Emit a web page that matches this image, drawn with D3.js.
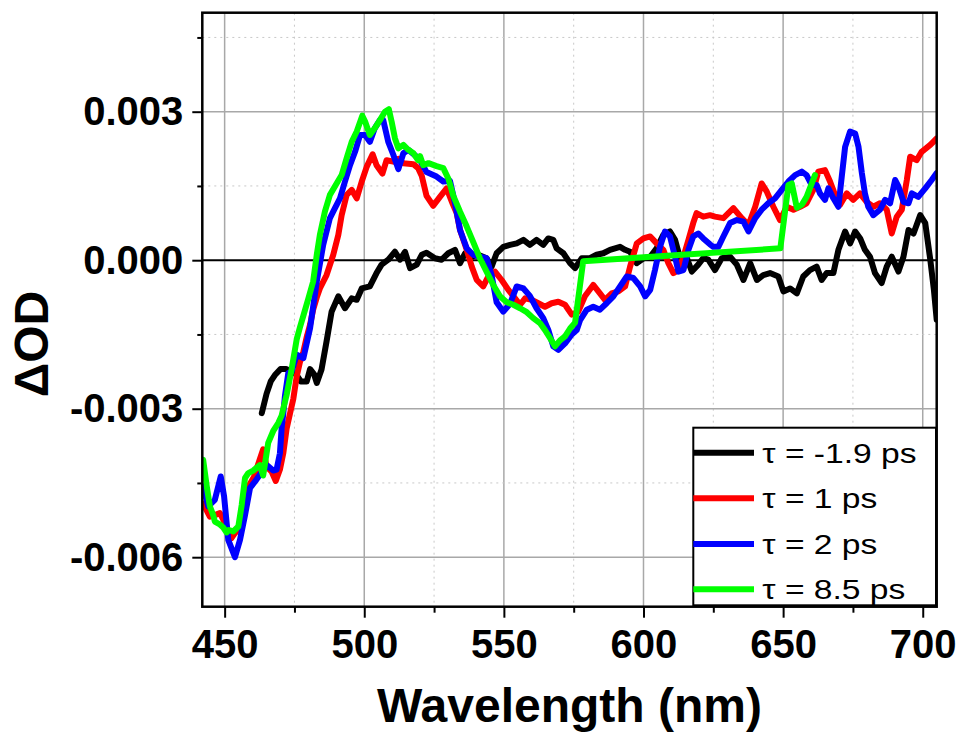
<!DOCTYPE html>
<html>
<head>
<meta charset="utf-8">
<script src="https://cdn.jsdelivr.net/npm/d3@7"></script>
<style>
  html, body { margin: 0; padding: 0; background: #fff; }
  svg { display: block; }
</style>
</head>
<body>
<svg id="chart" width="961" height="733"></svg>
<script>
// Transient absorption spectra: wavelength (nm) and ΔOD in units of 10^-3
const wlBlack = [463.3,465.0,466.5,468.0,470.0,472.0,474.0,475.5,477.3,479.4,480.6,482.0,483.0,484.7,486.5,488.3,490.7,493.1,495.5,497.3,499.1,502.0,504.4,506.2,508.6,511.0,512.8,514.6,516.4,518.8,520.6,522.3,525.3,527.7,530.1,532.5,534.3,536.1,538.5,540.8,543.8,545.6,547.4,549.8,552.2,554.6,557.0,559.3,561.7,564.1,565.9,567.7,568.9,571.3,573.7,575.5,577.9,580.8,583.2,585.6,588.0,591.6,593.4,595.2,597.6,600.0,602.4,604.7,607.1,609.5,611.3,613.1,614.9,617.3,619.6,621.4,623.2,625.6,628.0,631.0,633.4,635.8,638.2,640.6,642.9,645.3,648.3,650.1,652.5,654.9,657.2,659.6,662.0,663.8,665.6,668.0,669.8,672.2,674.0,675.8,677.6,679.3,681.1,682.9,685.3,687.1,688.9,691.3,693.1,694.9,696.7,699.1,700.9,702.7,704.0,705.0];
const odBlack = [-3.09,-2.70,-2.45,-2.32,-2.20,-2.20,-2.25,-2.30,-2.45,-2.45,-2.20,-2.30,-2.48,-2.21,-1.64,-1.04,-0.73,-0.97,-0.77,-0.80,-0.57,-0.53,-0.26,-0.09,0.01,0.17,0.01,0.17,-0.16,-0.09,0.11,0.15,0.04,0.01,0.14,0.21,-0.06,0.14,0.07,0.11,0.04,-0.13,0.14,0.27,0.31,0.34,0.41,0.31,0.41,0.31,0.44,0.41,0.24,0.14,-0.06,-0.16,0.04,0.04,0.11,0.14,0.21,0.27,0.21,0.17,-0.06,0.04,0.07,0.24,0.51,0.58,0.41,0.04,0.14,-0.23,-0.09,0.04,0.01,-0.20,0.04,0.07,-0.09,-0.40,-0.06,-0.40,-0.30,-0.26,-0.33,-0.63,-0.57,-0.67,-0.33,-0.20,-0.13,-0.40,-0.26,-0.26,0.21,0.58,0.34,0.58,0.44,0.21,0.07,-0.26,-0.46,-0.13,0.07,-0.23,0.07,0.61,0.54,0.91,0.75,0.01,-0.60,-1.20];

const wlRed = [442.3,444.7,446.5,448.3,449.5,451.3,452.5,453.7,454.9,456.7,458.5,460.5,462.6,463.8,465.0,466.8,468.3,469.8,471.0,472.2,473.4,474.6,475.8,477.0,478.2,479.4,480.6,481.7,483.0,484.1,486.5,488.9,490.7,491.9,493.7,495.5,497.3,499.1,500.9,503.0,504.4,506.5,508.0,510.4,512.2,514.0,515.8,517.6,519.3,520.6,522.3,524.7,527.1,529.5,531.6,533.1,534.3,535.5,536.7,538.5,540.3,542.6,544.4,546.8,549.2,551.6,554.0,555.8,557.6,560.0,562.3,564.7,567.1,569.5,571.9,574.3,576.6,579.0,582.0,584.4,586.2,588.6,591.0,593.4,595.2,597.6,600.0,602.4,604.7,607.1,608.9,610.7,612.5,614.3,616.1,617.8,619.0,621.4,623.8,625.6,628.6,632.2,635.2,637.6,640.0,642.3,644.1,646.5,648.9,651.3,653.7,656.1,658.4,660.8,662.6,665.0,666.8,668.6,670.4,672.8,675.1,677.5,679.9,682.3,684.7,687.1,688.9,690.7,692.5,694.3,695.5,697.8,699.6,702.7,705.0];
const odRed = [-4.92,-5.18,-5.15,-5.11,-5.24,-5.55,-5.61,-5.51,-5.45,-4.97,-4.57,-4.38,-4.02,-3.82,-4.17,-4.27,-4.46,-4.23,-3.90,-3.40,-3.10,-2.80,-2.35,-2.05,-1.85,-1.55,-1.30,-1.00,-0.75,-0.57,-0.30,0.11,0.51,0.91,1.32,1.42,1.25,1.59,1.89,2.14,1.92,1.75,2.02,1.99,2.05,1.96,1.95,1.94,1.86,1.70,1.30,1.10,1.28,1.45,1.15,0.95,0.61,0.41,0.21,-0.13,-0.40,-0.53,-0.33,-0.23,-0.40,-0.60,-0.77,-0.90,-0.77,-0.80,-0.87,-0.94,-0.87,-0.84,-0.90,-1.10,-1.04,-0.73,-0.50,-0.67,-0.80,-0.67,-0.63,-0.53,-0.13,0.34,0.44,0.48,0.34,0.21,-0.06,-0.26,-0.20,0.07,0.41,0.75,0.95,0.88,0.91,0.88,0.85,1.05,0.85,0.71,1.08,1.55,1.39,1.08,0.81,1.08,1.02,1.08,1.15,1.42,1.79,1.82,1.59,1.32,1.12,1.35,1.22,1.35,1.18,1.08,1.15,1.02,0.54,0.88,1.02,1.62,2.09,2.02,2.19,2.33,2.46];

const wlBlue = [442.3,444.1,446.5,448.6,449.8,451.3,453.7,455.5,457.3,459.1,460.9,463.3,465.3,467.4,468.6,469.8,470.4,471.0,471.6,472.8,474.0,475.8,478.2,480.6,483.0,485.3,487.7,489.5,491.3,493.1,494.9,496.7,498.5,500.3,502.0,503.8,505.6,506.8,508.6,510.4,512.2,514.0,515.8,518.8,520.0,522.3,525.9,528.3,530.7,532.5,534.3,536.7,539.0,541.4,543.8,545.6,547.4,549.8,552.2,554.6,557.0,559.3,561.7,564.1,565.9,567.7,569.5,571.9,574.3,576.1,577.3,579.7,582.0,584.4,586.8,589.2,591.6,594.0,596.4,598.8,600.6,602.4,604.1,605.9,607.7,609.5,611.3,612.5,614.3,616.1,617.8,619.6,621.4,623.8,625.0,626.8,628.6,631.0,633.4,635.8,637.6,640.0,642.3,644.7,647.1,649.5,651.9,654.3,656.7,658.4,660.2,662.0,663.2,665.0,666.2,668.0,669.8,671.0,672.2,674.0,675.8,677.0,678.2,679.3,680.5,682.3,684.7,686.5,688.3,690.1,691.3,693.1,694.9,696.1,698.4,700.9,703.2,705.0];
const odBlue = [-4.57,-4.97,-4.84,-4.37,-4.77,-5.65,-6.00,-5.65,-5.15,-4.60,-4.47,-4.28,-4.15,-4.25,-4.23,-3.90,-3.40,-3.10,-2.74,-2.28,-2.25,-1.91,-1.98,-1.37,-0.43,0.31,0.85,1.05,1.25,1.59,1.92,2.19,2.53,2.53,2.39,2.67,2.83,2.83,2.39,2.13,1.84,2.16,2.23,2.09,2.02,1.78,1.69,1.59,1.60,1.15,0.61,0.24,0.11,0.07,0.04,-0.30,-0.85,-1.04,-0.88,-0.53,-0.57,-0.72,-0.97,-1.17,-1.41,-1.74,-1.81,-1.68,-1.50,-1.41,-1.21,-1.00,-0.94,-1.00,-0.87,-0.73,-0.53,-0.33,-0.36,-0.53,-0.73,-0.60,-0.20,0.27,0.58,0.48,0.07,-0.23,-0.20,0.21,0.48,0.54,0.44,0.32,0.27,0.27,0.48,0.75,0.81,0.78,0.58,0.85,1.02,1.15,1.25,1.42,1.59,1.72,1.79,1.72,1.52,1.52,1.35,1.22,1.45,1.25,1.08,1.69,2.29,2.60,2.56,2.29,1.76,1.35,1.08,0.91,1.02,1.22,1.15,1.62,1.49,1.18,1.15,1.35,1.28,1.45,1.62,1.76];

const wlGreen = [442.3,443.6,444.7,445.9,446.5,448.3,449.5,450.7,451.5,453.1,454.9,456.1,457.3,458.5,460.2,462.6,463.8,465.6,467.4,469.2,470.4,472.2,474.0,475.8,477.0,478.2,480.0,481.7,483.0,484.1,485.9,487.7,490.1,491.9,493.7,495.5,497.3,499.3,500.3,502.0,503.8,505.6,507.4,508.8,509.8,511.0,512.2,514.0,515.8,517.6,519.3,520.0,521.1,523.0,525.9,528.3,530.1,531.9,534.3,536.7,539.0,541.4,543.8,546.2,548.6,551.0,553.4,555.8,558.2,560.5,562.9,564.7,566.5,568.3,570.1,571.9,573.7,575.5,578.4,649.0,651.9,653.1,654.9,656.7,658.4,661.4];
const odGreen = [-4.03,-4.57,-4.97,-5.15,-5.28,-5.34,-5.40,-5.50,-5.45,-5.48,-5.38,-4.95,-4.40,-4.30,-4.25,-4.14,-4.35,-3.69,-3.45,-3.29,-3.14,-2.72,-2.20,-1.60,-1.35,-1.12,-0.77,-0.43,0.11,0.51,0.98,1.32,1.55,1.72,2.06,2.39,2.60,2.92,2.80,2.53,2.67,2.83,3.00,3.05,2.80,2.46,2.26,2.33,2.23,2.16,2.02,2.10,1.92,1.96,1.90,1.86,1.65,1.30,0.98,0.68,0.37,0.04,-0.23,-0.50,-0.73,-0.85,-0.90,-0.97,-1.05,-1.17,-1.27,-1.41,-1.57,-1.74,-1.62,-1.54,-1.38,-1.26,-0.02,0.24,1.52,1.55,1.06,1.12,1.28,1.72];

const seriesLabels = ["τ = -1.9 ps", "τ = 1 ps", "τ = 2 ps", "τ = 8.5 ps"];
const seriesColors = ["#000000", "#ff0000", "#0000ff", "#00ff00"];
const seriesWl = [wlBlack, wlRed, wlBlue, wlGreen];
const seriesOd = [odBlack, odRed, odBlue, odGreen];
const OD_UNIT = 1e-3;

const xMajorTicks = [450, 500, 550, 600, 650, 700];
const xMinorTicks = [475, 525, 575, 625, 675];
const yMajorTicks = [0.003, 0, -0.003, -0.006];
const yMinorTicks = [0.0045, 0.0015, -0.0015, -0.0045];
const yTickLabels = ["0.003", "0.000", "-0.003", "-0.006"];
const xTitle = "Wavelength (nm)";
const yTitle = "ΔOD";

const FONT = "Arial, 'Liberation Sans', Helvetica, sans-serif";
const plot = { left: 202.3, right: 936.7, top: 12.7, bottom: 606.7 };

const svg = d3.select("#chart");
svg.append("rect").attr("width", 961).attr("height", 733).attr("fill", "#fff");

const x = d3.scaleLinear().domain([442, 705]).range([plot.left, plot.right]);
const y = d3.scaleLinear().domain([-0.007, 0.005]).range([plot.bottom, plot.top]);

svg.append("defs").append("clipPath").attr("id", "plot-clip")
  .append("rect")
  .attr("x", plot.left).attr("y", plot.top)
  .attr("width", plot.right - plot.left).attr("height", plot.bottom - plot.top);

// grid: solid at major ticks, dotted at minor ticks
const grid = svg.append("g");
grid.selectAll(".vmaj").data(xMajorTicks).join("line")
  .attr("x1", d => x(d)).attr("x2", d => x(d))
  .attr("y1", plot.top).attr("y2", plot.bottom)
  .attr("stroke", "#a8a8a8").attr("stroke-width", 1.5);
grid.selectAll(".vmin").data(xMinorTicks).join("line")
  .attr("x1", d => x(d)).attr("x2", d => x(d))
  .attr("y1", plot.top).attr("y2", plot.bottom)
  .attr("stroke", "#c8c8c8").attr("stroke-width", 1).attr("stroke-dasharray", "2,4");
grid.selectAll(".hmaj").data(yMajorTicks.filter(d => d !== 0)).join("line")
  .attr("x1", plot.left).attr("x2", plot.right)
  .attr("y1", d => y(d)).attr("y2", d => y(d))
  .attr("stroke", "#a8a8a8").attr("stroke-width", 1.5);
grid.selectAll(".hmin").data(yMinorTicks).join("line")
  .attr("x1", plot.left).attr("x2", plot.right)
  .attr("y1", d => y(d)).attr("y2", d => y(d))
  .attr("stroke", "#c8c8c8").attr("stroke-width", 1).attr("stroke-dasharray", "2,4");

// zero reference line
svg.append("line")
  .attr("x1", plot.left).attr("x2", plot.right)
  .attr("y1", y(0)).attr("y2", y(0))
  .attr("stroke", "#000").attr("stroke-width", 2);

// spectra
const line = d3.line()
  .x(d => x(d[0]))
  .y(d => y(d[1] * OD_UNIT));
const lines = svg.append("g").attr("clip-path", "url(#plot-clip)");
seriesWl.forEach((wl, i) => {
  const pts = wl.map((w, k) => [w, seriesOd[i][k]]);
  lines.append("path")
    .datum(pts)
    .attr("d", line)
    .attr("fill", "none")
    .attr("stroke", seriesColors[i])
    .attr("stroke-width", 6)
    .attr("stroke-linejoin", "round")
    .attr("stroke-linecap", "round");
});

// axes
function styleAxis(g) {
  g.select(".domain").remove();
  g.selectAll(".tick line").attr("stroke", "#000").attr("stroke-width", 2);
  g.selectAll(".tick text")
    .attr("fill", "#000")
    .style("font-family", FONT)
    .style("font-weight", "bold")
    .style("font-size", "40px");
}

svg.append("g")
  .attr("transform", `translate(0,${plot.bottom})`)
  .call(d3.axisBottom(x).tickValues(xMajorTicks).tickSize(11).tickPadding(12).tickFormat(d3.format("d")))
  .call(styleAxis);
svg.append("g")
  .attr("transform", `translate(0,${plot.bottom})`)
  .call(d3.axisBottom(x).tickValues(xMinorTicks).tickSize(6).tickFormat(""))
  .call(styleAxis);

svg.append("g")
  .attr("transform", `translate(${plot.left},0)`)
  .call(d3.axisLeft(y).tickValues(yMajorTicks).tickSize(10).tickPadding(9)
    .tickFormat(d => yTickLabels[yMajorTicks.indexOf(d)]))
  .call(styleAxis);
svg.append("g")
  .attr("transform", `translate(${plot.left},0)`)
  .call(d3.axisLeft(y).tickValues(yMinorTicks).tickSize(5).tickFormat(""))
  .call(styleAxis);

// frame
svg.append("rect")
  .attr("x", plot.left).attr("y", plot.top)
  .attr("width", plot.right - plot.left).attr("height", plot.bottom - plot.top)
  .attr("fill", "none").attr("stroke", "#000").attr("stroke-width", 2.5);

// axis titles
svg.append("text")
  .attr("x", (plot.left + plot.right) / 2).attr("y", 721.5)
  .attr("text-anchor", "middle")
  .style("font-family", FONT).style("font-weight", "bold").style("font-size", "48px")
  .text(xTitle);
svg.append("text")
  .attr("transform", "translate(48,344) rotate(-90)")
  .attr("text-anchor", "middle")
  .style("font-family", FONT).style("font-weight", "bold").style("font-size", "48px")
  .text(yTitle);

// legend
const legend = { left: 693.3, top: 427.7, width: 242.7, height: 177.6, rowY: [452.7, 498.3, 544, 589.3] };
const lg = svg.append("g");
lg.append("rect")
  .attr("x", legend.left).attr("y", legend.top)
  .attr("width", legend.width).attr("height", legend.height)
  .attr("fill", "#fff").attr("stroke", "#000").attr("stroke-width", 2);
seriesLabels.forEach((label, i) => {
  const ry = legend.rowY[i];
  lg.append("line")
    .attr("x1", legend.left).attr("x2", legend.left + 60.7)
    .attr("y1", ry).attr("y2", ry)
    .attr("stroke", seriesColors[i]).attr("stroke-width", 6);
  lg.append("text")
    .attr("transform", `translate(${legend.left + 69},${ry + 10}) scale(1.2,1)`)
    .style("font-family", FONT).style("font-size", "28px")
    .attr("fill", "#000")
    .text(label);
});
</script>
</body>
</html>
